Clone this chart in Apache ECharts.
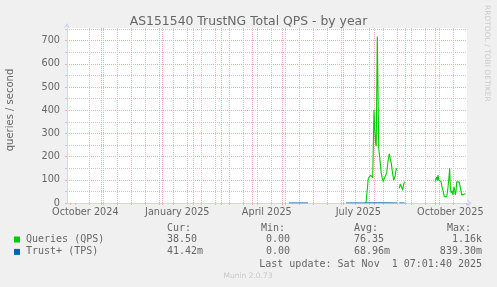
<!DOCTYPE html>
<html><head><meta charset="utf-8">
<script src="https://cdn.jsdelivr.net/npm/echarts@6/dist/echarts.min.js"></script>
<style>html,body{margin:0;padding:0;background:#F0F0F0;}#c{width:497px;height:287px;}</style>
</head><body><div id="c"></div>
<script>
const chartTitle = 'AS151540 TrustNG Total QPS - by year';
const yAxisTitle = 'queries / second';
const seriesNames = ['Queries (QPS)', 'Trust+ (TPS)'];
const seriesColors = ['#00CC00', '#0066B3'];

const qpsTimes = [
  '2025-07-24 05:00','2025-07-26 12:00','2025-07-27 12:00','2025-07-28 17:00','2025-07-29 17:00','2025-07-30 05:00','2025-07-30 22:00','2025-07-31 12:00',
  '2025-08-01 05:00','2025-08-01 22:00','2025-08-02 17:00','2025-08-03 10:00','2025-08-04 12:00','2025-08-05 05:00','2025-08-05 22:00','2025-08-06 17:00',
  '2025-08-07 12:00','2025-08-08 12:00','2025-08-09 12:00','2025-08-10 12:00','2025-08-11 12:00','2025-08-12 17:00','2025-08-13 22:00','2025-08-15 05:00',
  '2025-08-16 12:00','2025-08-17 12:00','2025-08-18 12:00','2025-08-19 17:00','2025-08-21 00:00','2025-08-22 05:00','2025-08-23 05:00','2025-08-24 05:00',
  '2025-08-25 06:00',
  '2025-08-26 12:00','2025-08-27 12:00','2025-08-28 17:00','2025-08-29 22:00','2025-08-30 22:00','2025-08-31 17:00',
  '2025-09-15 00:00',
  '2025-10-01 05:00','2025-10-02 22:00','2025-10-03 12:00','2025-10-04 05:00','2025-10-04 22:00','2025-10-05 12:00','2025-10-07 05:00','2025-10-08 05:00',
  '2025-10-09 12:00','2025-10-10 12:00','2025-10-12 22:00','2025-10-13 22:00','2025-10-14 22:00','2025-10-15 22:00','2025-10-16 12:00','2025-10-17 05:00',
  '2025-10-18 05:00','2025-10-19 05:00','2025-10-20 05:00','2025-10-20 22:00','2025-10-21 12:00','2025-10-22 05:00','2025-10-22 22:00','2025-10-24 05:00',
  '2025-10-25 12:00','2025-10-26 22:00','2025-10-27 22:00','2025-10-28 22:00','2025-10-29 22:00','2025-10-30 22:00','2025-10-31 22:00'
];
const qpsValues = [
  0,106,113,120,124,128,110,106,
  402,320,265,245,718,490,236,205,
  171,128,106,92,106,110,130,180,
  212,207,171,130,99,113,142,150,
  null,
  63,82,70,55,80,92,
  null,
  92,113,96,121,99,106,92,70,
  49,27,27,56,99,150,70,44,
  53,35,70,56,35,49,92,92,
  90,86,35,27,30,39,39
];
const tpsTimes = [
  '2025-05-08 05:00','2025-05-17 00:00','2025-05-27 05:00','2025-06-15 00:00',
  '2025-07-04 05:00','2025-07-20 00:00','2025-08-05 00:00','2025-08-24 05:00','2025-08-25 06:00',
  '2025-08-26 12:00','2025-08-31 17:00'
];
const tpsValues = [0.05,0.07,0.04,null,0.06,0.08,0.84,0.12,null,0.04,0.05];

const xStart = '2024-09-28 05:00';
const xEnd = '2025-11-02 05:00';
const monthLines = ['2024-10-01','2024-11-01','2024-12-01','2025-01-01','2025-02-01','2025-03-01','2025-04-01',
  '2025-05-01','2025-06-01','2025-07-01','2025-08-01','2025-09-01','2025-10-01','2025-11-01'];
const weekLines = ['2024-10-06','2024-10-20','2024-11-03','2024-11-17','2024-12-01','2024-12-15','2024-12-29',
  '2025-01-12','2025-01-26','2025-02-09','2025-02-23','2025-03-09','2025-03-23','2025-04-06','2025-04-20',
  '2025-05-04','2025-05-18','2025-06-01','2025-06-15','2025-06-29','2025-07-13','2025-07-27','2025-08-10',
  '2025-08-24','2025-09-07','2025-09-21','2025-10-05','2025-10-19','2025-11-02'];
const xLabelTimes = ['2024-10-16 12:00','2025-01-16 12:00','2025-04-16 00:00','2025-07-16 12:00','2025-10-16 12:00'];
const xLabels = ['October 2024','January 2025','April 2025','July 2025','October 2025'];
const yMax = 755;
const yMajorTicks = [0,100,200,300,400,500,600,700];
const yMinorTicks = [50,150,250,350,450,550,650,750];

const statHeaders = ['Cur:','Min:','Avg:','Max:'];
const qpsStats = ['38.50','0.00','76.35','1.16k'];
const tpsStats = ['41.42m','0.00','68.96m','839.30m'];
const lastUpdate = 'Last update: Sat Nov  1 07:01:40 2025';
const watermark = 'Munin 2.0.73';
const sideText = 'RRDTOOL / TOBI OETIKER';

const P = s => +echarts.time.parse(s);
const labelTs = xLabelTimes.map(P);
const FONT = '"DejaVu Sans", sans-serif';
const MONO = '"DejaVu Sans Mono", monospace';
const TXT = '#666666';
const AXIS = '#CFD6F8';
const GRAY = '#c8c8c8';
const RED = '#f4acac';

const chart = echarts.init(document.getElementById('c'), null, {renderer: 'canvas'});

const baseX = {type: 'value', min: P(xStart), max: P(xEnd), gridIndex: 0, position: 'bottom', offset: 0, scale: true};

const statCols = [
  {x: 167, align: 'left'}, {x: 290, align: 'right'}, {x: 354, align: 'left'}, {x: 482, align: 'right'}
];
const headerX = [167, 261, 354, 447];
const graphics = [];
const txt = (x, y, text, font, fill, align, rotation) => ({type: 'text', x, y, rotation: rotation || 0,
  style: {text, font, fill, align, verticalAlign: 'middle', textAlign: align, textVerticalAlign: 'middle'}});
statHeaders.forEach((h, i) => graphics.push(txt(headerX[i], 228, h, '10px ' + MONO, TXT, 'left')));
[qpsStats, tpsStats].forEach((row, r) => row.forEach((v, i) =>
  graphics.push(txt(statCols[i].x, 239.5 + r * 12.4, v, '10px ' + MONO, TXT, statCols[i].align))));
graphics.push(txt(482, 264.3, lastUpdate, '10px ' + MONO, TXT, 'right'));
graphics.push(txt(248, 276, watermark, '7.5px ' + FONT, '#c8c8c8', 'center'));
graphics.push(txt(487, 5, sideText, '7.5px ' + FONT, '#cccccc', 'left', -Math.PI / 2));
graphics.push(txt(10, 110, yAxisTitle, '10px ' + FONT, TXT, 'center', Math.PI / 2));

chart.setOption({
  animation: false,
  backgroundColor: '#F0F0F0',
  title: {text: chartTitle, left: 'center', top: 11,
    textStyle: {fontFamily: FONT, fontSize: 12.4, fontWeight: 'normal', color: TXT}},
  legend: {data: seriesNames, orient: 'vertical', left: 14, top: 233.5, padding: 0,
    itemWidth: 6, itemHeight: 6, itemGap: 0.4, icon: 'rect', selectedMode: false,
    textStyle: {fontFamily: MONO, fontSize: 10, color: TXT, lineHeight: 12, padding: [0, 0, 0, 1]}},
  grid: {left: 67, right: 30, top: 28, bottom: 84, containLabel: false, outerBoundsMode: 'none',
    backgroundColor: '#FFFFFF', show: true, borderWidth: 0},
  xAxis: [
    Object.assign({}, baseX, {
      axisLine: {show: true, onZero: false, lineStyle: {color: AXIS, width: 1}, symbol: ['none', 'arrow'], symbolSize: [6, 5], symbolOffset: [0, 5]},
      axisTick: {show: true, customValues: weekLines.map(P), length: 2, lineStyle: {color: GRAY}},
      axisLabel: {show: false},
      splitLine: {show: true, showMinLine: false, showMaxLine: false, lineStyle: {color: GRAY, type: [1, 1], width: 1}}
    }),
    Object.assign({}, baseX, {
      axisLine: {show: false, onZero: false},
      axisTick: {show: true, customValues: monthLines.map(P), length: 2, lineStyle: {color: RED}},
      axisLabel: {show: false},
      splitLine: {show: true, showMinLine: false, showMaxLine: false, lineStyle: {color: RED, type: [1, 1], width: 1}}
    }),
    Object.assign({}, baseX, {
      axisLine: {show: false, onZero: false},
      axisTick: {show: false},
      splitLine: {show: false},
      axisLabel: {show: true, customValues: labelTs, margin: 4, fontFamily: FONT, fontSize: 9.7, color: TXT,
        hideOverlap: false, showMinLabel: true, showMaxLabel: true,
        formatter: v => {
          let best = 0;
          labelTs.forEach((t, i) => { if (Math.abs(t - v) < Math.abs(labelTs[best] - v)) best = i; });
          return xLabels[best];
        }}
    })
  ],
  yAxis: [
    {type: 'value', min: 0, max: yMax, position: 'left',
      axisLine: {show: true, onZero: false, lineStyle: {color: AXIS, width: 1}, symbol: ['none', 'arrow'], symbolSize: [5, 5], symbolOffset: [0, 5]},
      axisTick: {show: true, customValues: yMajorTicks, length: 2, lineStyle: {color: RED}},
      axisLabel: {show: true, customValues: yMajorTicks, margin: 7, fontFamily: FONT, fontSize: 9.7, color: TXT},
      splitLine: {show: true, lineStyle: {color: RED, type: [1, 1], width: 1}}
    },
    {type: 'value', min: 0, max: yMax, position: 'left', offset: 0,
      axisLine: {show: false, onZero: false},
      axisTick: {show: true, customValues: yMinorTicks, length: 2, lineStyle: {color: GRAY}},
      axisLabel: {show: false},
      splitLine: {show: true, lineStyle: {color: GRAY, type: [1, 1], width: 1}}
    }
  ],
  graphic: graphics,
  series: [
    {name: seriesNames[0], type: 'line', xAxisIndex: 0, yAxisIndex: 0, showSymbol: false, symbol: 'none',
      connectNulls: false, color: seriesColors[0], lineStyle: {color: seriesColors[0], width: 1.1}, z: 3,
      data: qpsTimes.map((t, i) => [P(t), qpsValues[i]])},
    {name: seriesNames[1], type: 'line', xAxisIndex: 0, yAxisIndex: 0, showSymbol: false, symbol: 'none',
      connectNulls: false, color: seriesColors[1], lineStyle: {color: seriesColors[1], width: 1}, z: 4,
      data: tpsTimes.map((t, i) => [P(t), tpsValues[i]])}
  ]
});
</script></body></html>
